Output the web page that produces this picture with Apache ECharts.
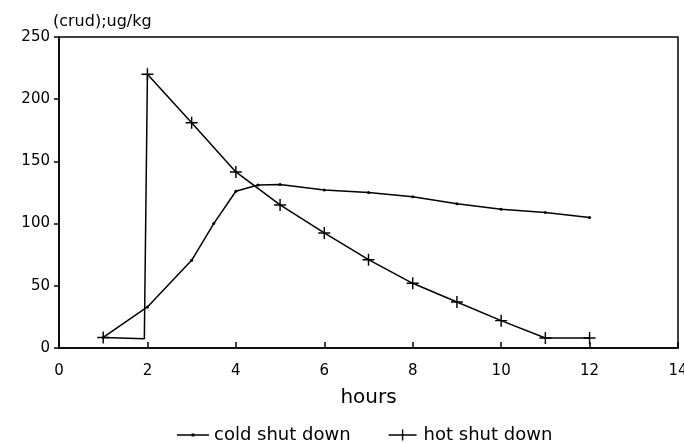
<!DOCTYPE html>
<html>
<head>
<meta charset="utf-8">
<script src="https://cdn.jsdelivr.net/npm/echarts@6/dist/echarts.min.js"></script>
<style>
html,body{margin:0;padding:0;background:#fff;}
#chart{width:684px;height:443px;}
</style>
</head>
<body>
<div id="chart"></div>
<script>
// Data
var coldHours = [1, 2, 3, 3.5, 4, 4.5, 5, 6, 7, 8, 9, 10, 11, 12];
var coldValues = [8.5, 33, 70.5, 100, 126, 131, 131.5, 127, 125, 121.5, 116, 111.5, 109, 105];
var hotHours = [1, 1.93, 2, 3, 4, 5, 6, 7, 8, 9, 10, 11, 12];
var hotValues = [8.5, 7.5, 220, 181, 141.5, 115, 92.5, 71, 52, 37, 22, 8, 8];
var hotMarked = [true, false, true, true, true, true, true, true, true, true, true, true, true];
var xTicks = [0, 2, 4, 6, 8, 10, 12, 14];
var yTicks = [0, 50, 100, 150, 200, 250];
var seriesNames = ['cold shut down', 'hot shut down'];
var xTitle = 'hours';
var yTitle = '(crud);ug/kg';

var plusPath = 'path://M4.4,0h1.2v4.4h4.4v1.2h-4.4v4.4h-1.2v-4.4h-4.4v-1.2h4.4z';
// legend icons drawn in a 32x12 box (tiny corner specks keep the box size)
var coldIcon = 'path://M0,0h0.05v0.05h-0.05z M31.95,11.95h0.05v0.05h-0.05z M0,5.3h32v1.4h-32z M14.6,4.6h2.8v2.8h-2.8z';
var hotIcon = 'path://M0,0h0.05v0.05h-0.05z M31.95,11.95h0.05v0.05h-0.05z M2,5.3h28v1.4h-28z M15.3,0.5h1.4v11h-1.4z';
var FONT = 'DejaVu Sans';

var coldData = coldHours.map(function (h, i) { return [h, coldValues[i]]; });
var hotData = hotHours.map(function (h, i) {
  var d = { value: [h, hotValues[i]] };
  if (!hotMarked[i]) d.symbol = 'none';
  return d;
});

var chart = echarts.init(document.getElementById('chart'), null, { renderer: 'canvas' });
chart.setOption({
  animation: false,
  backgroundColor: '#ffffff',
  textStyle: { fontFamily: FONT, color: '#000' },
  grid: {
    left: 59, right: 6, top: 37, bottom: 95,
    containLabel: false, outerBoundsMode: 'none',
    show: true, borderColor: '#000', borderWidth: 1.5, backgroundColor: 'transparent'
  },
  legend: {
    left: 172, top: 421,
    itemWidth: 32, itemHeight: 12, itemGap: 36,
    textStyle: { fontFamily: FONT, fontSize: 18, color: '#000' },
    data: [
      { name: seriesNames[0], icon: coldIcon },
      { name: seriesNames[1], icon: hotIcon }
    ]
  },
  xAxis: {
    type: 'value',
    min: xTicks[0], max: xTicks[xTicks.length - 1], interval: 2,
    name: xTitle, nameLocation: 'middle', nameGap: 40,
    nameTextStyle: { fontFamily: FONT, fontSize: 20, color: '#000' },
    axisLine: { show: true, lineStyle: { color: '#000', width: 1.5 } },
    axisTick: { show: true, inside: true, length: 6, lineStyle: { color: '#000', width: 1.5 } },
    axisLabel: { fontFamily: FONT, fontSize: 15, color: '#000', margin: 16 },
    splitLine: { show: false }
  },
  yAxis: {
    type: 'value',
    min: yTicks[0], max: yTicks[yTicks.length - 1], interval: 50,
    name: yTitle, nameLocation: 'end', nameGap: 7,
    nameTextStyle: { fontFamily: FONT, fontSize: 16, color: '#000', align: 'left', padding: [0, 0, 0, -6] },
    axisLine: { show: true, lineStyle: { color: '#000', width: 1.5 } },
    axisTick: { show: true, inside: false, length: 5, lineStyle: { color: '#000', width: 1.5 } },
    axisLabel: { fontFamily: FONT, fontSize: 15, color: '#000', margin: 9 },
    splitLine: { show: false }
  },
  series: [
    {
      name: seriesNames[0], type: 'line', data: coldData,
      symbol: 'circle', symbolSize: 3, showSymbol: true,
      lineStyle: { color: '#000', width: 1.5 },
      itemStyle: { color: '#000' },
      z: 2
    },
    {
      name: seriesNames[1], type: 'line', data: hotData,
      symbol: plusPath, symbolSize: 12, showSymbol: true,
      lineStyle: { color: '#000', width: 1.5 },
      itemStyle: { color: '#000' },
      z: 3
    }
  ]
});
</script>
</body>
</html>
